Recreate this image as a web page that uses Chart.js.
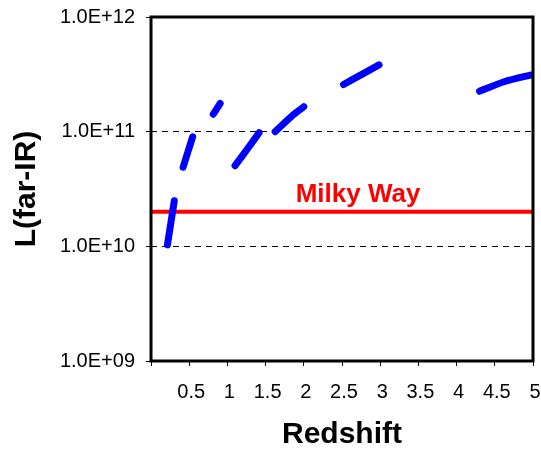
<!DOCTYPE html>
<html>
<head>
<meta charset="utf-8">
<script src="https://cdn.jsdelivr.net/npm/chart.js@4.4.1/dist/chart.umd.min.js"></script>
<style>
  html, body { margin: 0; padding: 0; background: #ffffff; }
  canvas { display: block; }
</style>
</head>
<body>
<canvas id="chart" width="541" height="451"></canvas>
<script>
// Far-IR luminosity limit versus redshift, one band per window
const zBand1 = [0.215, 0.305];
const lBand1 = [1.03e10, 2.5e10];
const zBand2 = [0.42, 0.545];
const lBand2 = [4.9e10, 9.0e10];
const zBand3 = [0.815, 0.905];
const lBand3 = [1.42e11, 1.76e11];
const zBand4 = [1.10, 1.29, 1.415];
const lBand4 = [5.05e10, 7.5e10, 9.8e10];
const zBand5 = [1.625, 1.86, 2.0];
const lBand5 = [1.0e11, 1.40e11, 1.65e11];
const zBand6 = [2.52, 2.76, 2.985];
const lBand6 = [2.58e11, 3.16e11, 3.82e11];
const zBand7 = [4.30, 4.63, 5.0];
const lBand7 = [2.25e11, 2.74e11, 3.15e11];

// Reference level for our own galaxy
const milkyWayL = 2e10;
const milkyWayName = 'Milky Way';
const milkyWayZRange = [0, 5];

// Axis ticks
const yTickValues = [1e9, 1e10, 1e11, 1e12];
const yDashedAt = [1e10, 1e11];
const xMin = 0, xMax = 5, xStep = 0.5;

const FONT = 'Arial, "Liberation Sans", sans-serif';
Chart.defaults.font.family = FONT;
Chart.defaults.color = '#000000';

const bands = [
  [zBand1, lBand1], [zBand2, lBand2], [zBand3, lBand3], [zBand4, lBand4],
  [zBand5, lBand5], [zBand6, lBand6], [zBand7, lBand7]
];

const bandSets = bands.map(([z, l]) => ({
  data: z.map((v, i) => ({ x: v, y: l[i] })),
  showLine: true,
  borderColor: '#0000ff',
  backgroundColor: '#0000ff',
  borderWidth: 7,
  borderCapStyle: 'round',
  borderJoinStyle: 'round',
  tension: 0.2,
  pointRadius: 0,
  clip: 0
}));

const milkyWaySet = {
  data: milkyWayZRange.map(z => ({ x: z, y: milkyWayL })),
  showLine: true,
  borderColor: '#ff0000',
  borderWidth: 4,
  pointRadius: 0,
  clip: 0
};

function sciLabel(v) {
  const [m, e] = Number(v).toExponential(1).toUpperCase().split('E');
  return m + 'E' + e[0] + e.slice(1).padStart(2, '0');
}

// Keep the plot box fixed: no extra room reserved for overhanging labels
function pinScale(s, size) {
  if (s.isHorizontal()) s.height = size; else s.width = size;
  s.paddingTop = 0; s.paddingBottom = 0; s.paddingLeft = 0; s.paddingRight = 0;
}

// Plot frame and the caption over the reference line
const framePlugin = {
  id: 'frame',
  afterDatasetsDraw(chart) {
    const { ctx, chartArea: a, scales } = chart;
    ctx.save();
    ctx.font = 'bold 26px ' + FONT;
    ctx.fillStyle = '#ff0000';
    ctx.textAlign = 'center';
    ctx.textBaseline = 'alphabetic';
    ctx.fillText(milkyWayName, scales.x.getPixelForValue(2.71), scales.y.getPixelForValue(milkyWayL) - 10);
    ctx.lineWidth = 3;
    ctx.strokeStyle = '#000000';
    ctx.strokeRect(a.left, a.top, a.right - a.left, a.bottom - a.top);
    ctx.restore();
  }
};

new Chart(document.getElementById('chart'), {
  type: 'scatter',
  data: { datasets: [...bandSets, milkyWaySet] },
  plugins: [framePlugin],
  options: {
    responsive: false,
    animation: false,
    devicePixelRatio: 1,
    layout: { padding: { top: 17, right: 8, left: 0, bottom: 0 } },
    plugins: { legend: { display: false }, tooltip: { enabled: false } },
    events: [],
    scales: {
      x: {
        type: 'linear',
        min: xMin,
        max: xMax,
        afterFit: s => pinScale(s, 90),
        ticks: {
          stepSize: xStep,
          font: { size: 20 },
          padding: 14,
          labelOffset: 2,
          maxRotation: 0,
          autoSkip: false,
          callback: v => (v === 0 ? '' : String(v))
        },
        grid: {
          drawOnChartArea: false,
          drawTicks: true,
          tickLength: 5,
          tickColor: '#000000',
          tickWidth: 1
        },
        border: { display: false },
        title: {
          display: true,
          text: 'Redshift',
          font: { size: 30, weight: 'bold', lineHeight: 1 },
          padding: { top: 0, bottom: 1 }
        }
      },
      y: {
        type: 'logarithmic',
        min: 1e9,
        max: 1e12,
        afterFit: s => pinScale(s, 151),
        afterBuildTicks: s => { s.ticks = yTickValues.map(v => ({ value: v })); },
        ticks: {
          font: { size: 20 },
          padding: 11,
          autoSkip: false,
          callback: v => sciLabel(v)
        },
        grid: {
          color: c => (c.tick && yDashedAt.includes(c.tick.value) ? '#000000' : 'rgba(0,0,0,0)'),
          lineWidth: 1,
          drawTicks: true,
          tickLength: 5,
          tickColor: '#000000',
          tickWidth: 1,
          tickBorderDash: []
        },
        border: { display: false, dash: [6, 5] },
        title: {
          display: true,
          text: 'L(far-IR)',
          font: { size: 30, weight: 'bold', lineHeight: 1 },
          padding: { top: 12, bottom: 0 }
        }
      }
    }
  }
});
</script>
</body>
</html>
